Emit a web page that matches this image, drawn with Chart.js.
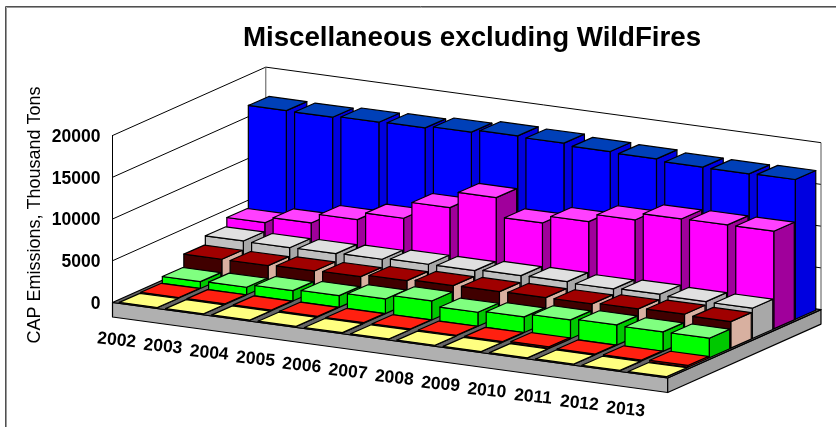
<!DOCTYPE html>
<html><head><meta charset="utf-8">
<style>html,body{margin:0;padding:0;background:#fff}canvas{display:block}</style>
<script src="https://cdn.jsdelivr.net/npm/chart.js@4/dist/chart.umd.min.js"></script>
</head><body><canvas id="c" width="836" height="427"></canvas>
<script>
const years=['2002','2003','2004','2005','2006','2007','2008','2009','2010','2011','2012','2013'];
const seriesYellow=[20,20,20,20,20,20,20,20,20,20,20,20];
const seriesRed=[70,70,70,70,70,70,70,70,200,70,120,220];
const seriesGreen=[814,898,1245,1401,1760,2275,1677,1868,2263,2419,2335,2335];
const seriesDarkRed=[2347,2335,2455,2527,2802,2958,2994,3030,3030,3186,3305,3174];
const seriesGrey=[3390,3340,3377,3461,3617,3605,3760,3796,3677,3796,3665,3629];
const seriesMagenta=[4431,5150,6300,7220,9245,11200,8920,9830,10790,11660,11700,11700];
const seriesBlue=[16707,16670,16826,16898,17138,17449,17329,17078,16958,16718,16670,16742];
const yTicks=[0,5000,10000,15000,20000];
const palette=[
 {front:'#808000',top:'#FFFF80',side:'#C0C000'},
 {front:'#800000',top:'#FF2010',side:'#C00000'},
 {front:'#00FF00',top:'#80FF80',side:'#00C800'},
 {front:'#400000',top:'#A00000',side:'#D8B0A0'},
 {front:'#C0C0C0',top:'#E0E0E0',side:'#A8A8A8'},
 {front:'#FF00FF',top:'#FF40FF',side:'#A0009B'},
 {front:'#0000FF',top:'#0040B8',side:'#0000E0'}
];
// oblique projection
const depthX=153.3,depthY=68.4,slope=0.136,stepX=21.5,stepY=9.6,insetX=2.7,barW=38,topDX=20.5,topDY=9,slab=14.5;
function poly(ctx,pts,fill,stroke,lw){ctx.beginPath();pts.forEach((p,i)=>i?ctx.lineTo(p[0],p[1]):ctx.moveTo(p[0],p[1]));ctx.closePath();if(fill){ctx.fillStyle=fill;ctx.fill();}if(stroke){ctx.strokeStyle=stroke;ctx.lineWidth=lw||1;ctx.stroke();}}
class Bar3D extends Chart.BarController{
 draw(){
  const meta=this._cachedMeta,ctx=this.chart.ctx,j=meta.index,col=palette[j];
  const x0=meta.xScale.getPixelForValue(0);
  ctx.save();ctx.lineJoin='round';
  meta.data.forEach(el=>{
   const p=el.getProps(['x','y','base'],true),off=(p.x-x0)*slope-j*stepY;
   const X=p.x-barW/2+insetX+j*stepX,T=p.y+off,B=p.base+off,w=barW,ws=barW*slope;
   poly(ctx,[[X+w,T+ws],[X+w+topDX,T+ws-topDY],[X+w+topDX,B+ws-topDY],[X+w,B+ws]],col.side,'#000',1.2);
   poly(ctx,[[X,T],[X+w,T+ws],[X+w,B+ws],[X,B]],col.front,'#000',1.2);
   poly(ctx,[[X,T],[X+w,T+ws],[X+w+topDX,T+ws-topDY],[X+topDX,T-topDY]],col.top,'#000',1.2);
  });
  ctx.restore();
 }
}
Bar3D.id='bar3d';Bar3D.defaults=Chart.BarController.defaults;Bar3D.overrides=Chart.BarController.overrides;
class SlantCategory extends Chart.CategoryScale{
 _computeLabelItems(area){
  const items=super._computeLabelItems(area),x0=this.getPixelForValue(0);
  items.forEach((it,i)=>{
   const px=this.getPixelForValue(i);
   it.textOffset=0;
   it.options=Object.assign({},it.options,{
    translation:[px-19,this.top+(px-x0)*slope+38],
    rotation:0.1,textAlign:'center',textBaseline:'middle'});
  });
  return items;
 }
}
SlantCategory.id='slantCategory';SlantCategory.defaults=Chart.CategoryScale.defaults;
class WallLinear extends Chart.LinearScale{
 _computeLabelItems(area){
  const items=super._computeLabelItems(area);
  items.forEach(it=>{const t=it.options.translation;it.options=Object.assign({},it.options,{translation:[t[0],t[1]+1.5]});});
  return items;
 }
 drawTitle(){const c=this.ctx;c.save();c.translate(0,-4);super.drawTitle();c.restore();}
}
WallLinear.id='wallLinear';WallLinear.defaults=Chart.LinearScale.defaults;
const stage={id:'stage',
 afterLayout(ch){const t=ch.titleBlock;t.left=108;t.right=836;},
 beforeDraw(ch){
  const c=ch.ctx;c.save();
  c.strokeStyle='#9a9a9a';c.lineWidth=1;c.beginPath();c.moveTo(6.5,427);c.lineTo(6.5,7.5);c.lineTo(836,7.5);c.stroke();
  c.strokeStyle='#505050';c.beginPath();c.moveTo(5.5,427);c.lineTo(5.5,6.5);c.lineTo(836,6.5);c.stroke();
  c.restore();
 },
 beforeDatasetsDraw(ch){
  const c=ch.ctx,a=ch.chartArea,y=ch.scales.y,L=a.left,R=a.right,B=y.getPixelForValue(0),Tp=y.getPixelForValue(20000),w=R-L,ws=w*slope;
  c.save();c.lineJoin='round';
  c.strokeStyle='#000';c.lineWidth=1;
  yTicks.forEach(v=>{if(!v)return;const Y=y.getPixelForValue(v);c.beginPath();c.moveTo(L,Y);c.lineTo(L+depthX,Y-depthY);c.lineTo(L+depthX+w,Y-depthY+ws);c.stroke();});
  c.strokeStyle='#555';
  c.beginPath();c.moveTo(L+depthX,Tp-depthY);c.lineTo(L+depthX,B-depthY);c.stroke();
  c.beginPath();c.moveTo(R+depthX,Tp-depthY+ws);c.lineTo(R+depthX,B-depthY+ws);c.stroke();
  poly(c,[[L,B],[R,B+ws],[R,B+ws+slab],[L,B+slab]],'#B0B0B0','#000',1.2);
  poly(c,[[R,B+ws],[R+depthX,B+ws-depthY],[R+depthX,B+ws-depthY+slab],[R,B+ws+slab]],'#A0A0A0','#000',1.2);
  poly(c,[[L,B],[R,B+ws],[R+depthX,B+ws-depthY],[L+depthX,B-depthY]],'#666','#000',1.2);
  c.restore();
 }
};
Chart.register(Bar3D,SlantCategory,WallLinear);
const names=['Series 1','Series 2','Series 3','Series 4','Series 5','Series 6','Series 7'];
const values=[seriesYellow,seriesRed,seriesGreen,seriesDarkRed,seriesGrey,seriesMagenta,seriesBlue];
new Chart(document.getElementById('c'),{
 type:'bar3d',
 data:{labels:years,datasets:values.map((d,i)=>({label:names[i],data:d,backgroundColor:palette[i].front,grouped:false,barPercentage:0.82,categoryPercentage:1,clip:false}))},
 plugins:[stage],
 options:{responsive:false,animation:false,events:[],
  layout:{padding:{left:0,right:168.3,top:0,bottom:0}},
  plugins:{legend:{display:false},tooltip:{enabled:false},
   title:{display:true,text:'Miscellaneous excluding WildFires',color:'#000',font:{family:'"Liberation Sans"',size:27.7,weight:'bold',lineHeight:1.2},padding:{top:22,bottom:80.3}}},
  scales:{
   x:{type:'slantCategory',offset:true,grid:{display:false},border:{display:false},
      ticks:{autoSkip:false,maxRotation:0,color:'#000',font:{family:'"Liberation Sans"',size:17.5,weight:'bold'}},
      afterFit(s){s.height=427-302.5;}},
   y:{type:'wallLinear',min:0,max:20000,grid:{display:false,drawTicks:false},border:{display:true,color:'#000',width:1},
      afterBuildTicks(s){s.ticks=yTicks.map(v=>({value:v}));},
      ticks:{color:'#000',padding:12,font:{family:'"Liberation Sans"',size:17.5,weight:'bold'},callback:v=>String(v)},
      title:{display:true,text:'CAP Emissions, Thousand Tons',color:'#000',font:{family:'"Liberation Sans"',size:18},padding:{top:24,bottom:0}},
      afterFit(s){s.width=112.5;}}
  }}
});
</script></body></html>
